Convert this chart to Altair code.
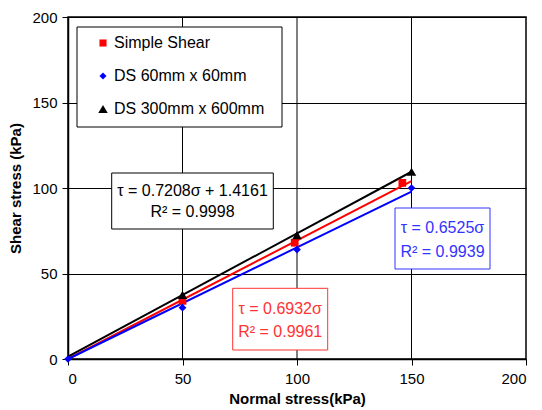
import altair as alt
import pandas as pd

# ---- data ----
x_ticks = [0, 50, 100, 150, 200]
y_ticks = [0, 50, 100, 150, 200]

series_names = ["Simple Shear", "DS 60mm x 60mm", "DS 300mm x 600mm"]
series_colors = ["#FF0000", "#0000FF", "#000000"]
series_shapes = ["square", "diamond", "triangle-up"]

ss_x = [50, 99, 146]
ss_y = [34, 68, 103]
ds60_x = [0, 50, 100, 150]
ds60_y = [0, 30, 64, 100]
ds300_x = [50, 100, 150]
ds300_y = [37.5, 72.5, 109.5]

# trendline end points
ss_fit_x = [0, 150]
ss_fit_y = [0, 104]
ds60_fit_x = [0, 150]
ds60_fit_y = [0, 97.9]
ds300_fit_x = [0, 150]
ds300_fit_y = [1.4, 109.5]

eq_ss = ["τ = 0.6932σ", "R² = 0.9961"]
eq_ds60 = ["τ = 0.6525σ", "R² = 0.9939"]
eq_ds300 = ["τ = 0.7208σ + 1.4161", "R² = 0.9998"]

FONT = "Liberation Sans"
W, H = 458, 342

xs = alt.Scale(domain=[0, 200], nice=False)
ys = alt.Scale(domain=[0, 200], nice=False)

pts = pd.concat([
    pd.DataFrame({"x": ss_x, "y": ss_y, "s": series_names[0]}),
    pd.DataFrame({"x": ds60_x, "y": ds60_y, "s": series_names[1]}),
    pd.DataFrame({"x": ds300_x, "y": ds300_y, "s": series_names[2]}),
])
fits = [
    pd.DataFrame({"x": ss_fit_x, "y": ss_fit_y}),
    pd.DataFrame({"x": ds60_fit_x, "y": ds60_fit_y}),
    pd.DataFrame({"x": ds300_fit_x, "y": ds300_fit_y}),
]

one = pd.DataFrame({"a": [0]})

base = alt.Chart(one).mark_point(opacity=0).encode(
    x=alt.X("a:Q", scale=xs, title="Normal stress(kPa)",
            axis=alt.Axis(values=x_ticks, grid=False, tickSize=6, labelPadding=6,
                          titlePadding=5)),
    y=alt.Y("a:Q", scale=ys, title="Shear stress (kPa)",
            axis=alt.Axis(values=y_ticks, grid=True, tickSize=6, labelPadding=5,
                          titlePadding=8)),
)

# vertical gridlines at 50/100/150
vgrid = alt.Chart(pd.DataFrame({"x": x_ticks[1:-1]})).mark_rule(color="black", strokeWidth=1).encode(
    x=alt.X("x:Q", scale=xs)
)

layers = [base, vgrid]
for i, f in enumerate(fits):
    layers.append(
        alt.Chart(f).mark_line(color=series_colors[i], strokeWidth=2).encode(
            x=alt.X("x:Q", scale=xs), y=alt.Y("y:Q", scale=ys)
        )
    )
for i, name in enumerate(series_names):
    layers.append(
        alt.Chart(pts[pts["s"] == name]).mark_point(
            shape=series_shapes[i], filled=True, color=series_colors[i], opacity=1,
            size=[60, 60, 90][i]
        ).encode(x=alt.X("x:Q", scale=xs), y=alt.Y("y:Q", scale=ys))
    )

def box(x1, x2, y1, y2, color, lines, tys, cx):
    out = [alt.Chart(one).mark_rect(fill="white", stroke=color, strokeWidth=1).encode(
        x=alt.value(x1), x2=alt.value(x2), y=alt.value(y1), y2=alt.value(y2))]
    for t, ty in zip(lines, tys):
        out.append(alt.Chart(one).mark_text(font=FONT, fontSize=16, color=color,
                                            align="center", baseline="middle").encode(
            x=alt.value(cx), y=alt.value(ty), text=alt.value(t)))
    return out

layers += box(43.7, 205.3, 156, 212, "black", eq_ds300, [173.5, 195], 124.5)
layers += box(327, 422, 191, 252, "#3333FF", eq_ds60, [211.3, 234.7], 374.5)
layers += box(164.7, 259.7, 271.3, 333, "#FF3333", eq_ss, [292, 315], 212.2)

# legend
layers.append(alt.Chart(one).mark_rect(fill="white", stroke="black", strokeWidth=1).encode(
    x=alt.value(9), x2=alt.value(214), y=alt.value(10), y2=alt.value(110)))
for i, name in enumerate(series_names):
    ly = 26 + 33 * i
    layers.append(alt.Chart(one).mark_point(shape=series_shapes[i], filled=True, opacity=1,
                                            color=series_colors[i], size=[50, 50, 90][i]).encode(
        x=alt.value(35), y=alt.value(ly)))
    layers.append(alt.Chart(one).mark_text(font=FONT, fontSize=16, color="black",
                                           align="left", baseline="middle").encode(
        x=alt.value(46), y=alt.value(ly), text=alt.value(name)))

chart = alt.layer(*layers).properties(
    width=W, height=H,
    padding={"left": 60, "top": 9, "right": 8, "bottom": 52},
    autosize=alt.AutoSizeParams(type="none"),
).configure_view(
    stroke="black", strokeWidth=1.5
).configure_axis(
    labelFont=FONT, titleFont=FONT, labelFontSize=15, titleFontSize=15,
    titleFontWeight="bold", labelColor="black", titleColor="black",
    domainColor="black", tickColor="black", gridColor="black", gridOpacity=1,
    gridWidth=1, domainWidth=1.5, tickWidth=1
)

chart.save("out.html", embed_options={"renderer": "svg", "actions": False})
